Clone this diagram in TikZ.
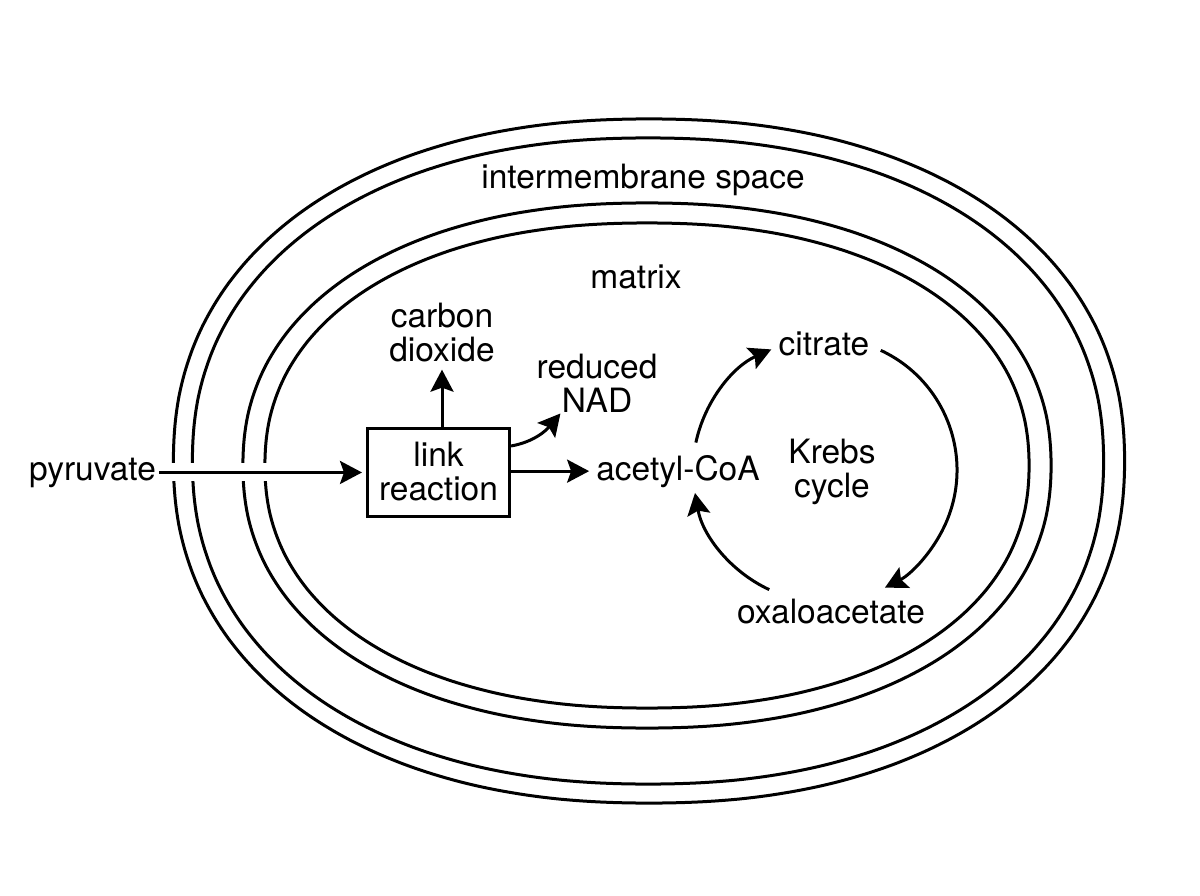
\documentclass[tikz,border=0pt]{standalone}
\usepackage{fontspec}
\setmainfont{TeX Gyre Heros}
\usetikzlibrary{arrows.meta,positioning}

\begin{document}
\begin{tikzpicture}[
      x=1pt, y=-1pt,
      label_txt/.style={
         inner sep=3pt,
         align=center,
         font=\fontsize{33.5}{34}\selectfont},
      box_node/.style={
         rectangle,
         draw=black,
         line width=3pt,
         minimum width=142pt,
         minimum height=88pt,
         align=center,
         font=\fontsize{33.5}{34}\selectfont},
      membrane_line/.style={
         line width=3pt},
      arrow_black/.style={
         -{Stealth[length=22pt,width=23pt,inset=4pt]},
         line width=3pt,
         shorten >=4pt},
      arrow_cycle/.style={
         -{Stealth[length=22pt,width=23pt,inset=4pt]},
         line width=3pt}
]
      \path[fill=white] (0,0) rectangle (1200,896);
      \useasboundingbox (0,0) rectangle (1200,896);

      %membranes, outer to inner
      \foreach \cx/\cy/\rx/\ry in {649/461/475.5/342, 648/461/455.5/323,
                                   647/465.5/404/262.5, 647/465.5/382/242.5}
        \draw[membrane_line] plot[domain=1:359, samples=180, smooth cycle]
          ({\cx+\rx*sign(cos(\x))*pow(abs(cos(\x)),0.91)},
           {\cy+\ry*sign(sin(\x))*pow(abs(sin(\x)),0.91)});

      %labels
      \node[label_txt, anchor=base] (ims) at (643,189) {intermembrane space};
      \node[label_txt, anchor=base] (mtx) at (636,288) {matrix};
      \node[label_txt, anchor=base] (pyr) at (92.5,480) {pyruvate};

      %link reaction
      \node[box_node] (link) at (438.5,472) {link\\reaction};
      \node[label_txt] (co2) at (442,333) {carbon\\dioxide};
      \node[label_txt] (nad) at (597,383) {reduced\\NAD};
      \node[label_txt, anchor=base] (acoa) at (678,480) {acetyl-CoA};

      %krebs cycle
      \node[label_txt, anchor=base] (cit) at (824,355) {citrate};
      \node[label_txt, anchor=base] (oaa) at (831,623) {oxaloacetate};
      \node[label_txt] (krebs) at (832,471.5) {Krebs\\cycle};
      \coordinate (kc) at (825,470);

      \draw[arrow_black, preaction={draw=white, line width=18pt, -}]
        (pyr.east) -- (pyr.east -| link.west);
      \draw[arrow_black] (co2.south |- link.north) -- (co2.south);
      \draw[arrow_black] (acoa.west -| link.east) -- (acoa.west);
      \draw[arrow_black] ([yshift=26pt]link.east) to[out=10, in=230]
        ([xshift=-34pt, yshift=5pt]nad.south);

      \foreach \a/\b in {-65/63, 192/246, 115/170}
        \draw[arrow_cycle] ([shift={(\a:132)}]kc) arc[start angle=\a, end angle=\b, radius=132];
\end{tikzpicture}
\end{document}
